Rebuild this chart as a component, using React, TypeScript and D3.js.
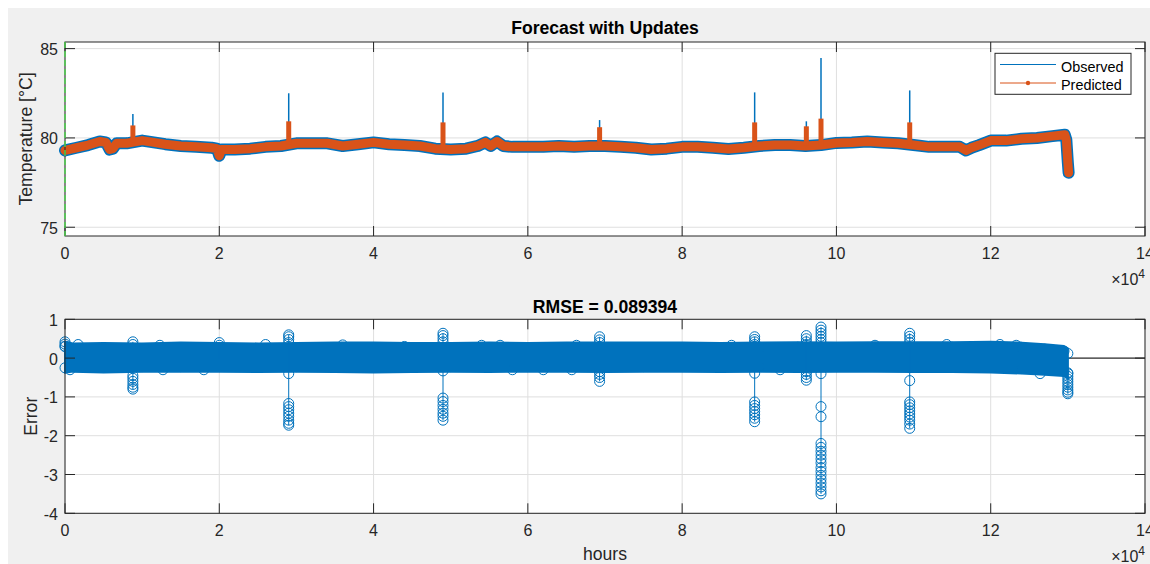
import React from 'react';
import * as d3 from 'd3';

const W = 1150;
const H = 564;

// ---------- Top panel: temperature (hours, °C) ----------
const tempHours = [0, 1500, 3000, 4500, 5300, 5800, 6200, 6700, 8000, 10000, 11500, 13000, 15000, 17000, 19000, 19700, 20000, 20300, 22000, 24000, 26000, 28000, 30000, 32000, 34000, 36000, 38000, 40000, 42000, 44000, 46000, 48000, 50000, 52000, 53500, 54500, 55200, 56000, 56800, 58000, 60000, 62000, 64000, 66000, 68000, 70000, 72000, 74000, 76000, 78000, 80000, 82000, 84000, 86000, 88000, 90000, 92000, 94000, 96000, 98000, 100000, 102000, 104000, 106000, 108000, 110000, 112000, 114000, 116000, 116800, 117500, 118500, 120000, 122000, 124000, 126000, 128000, 129600, 129800, 130000, 130100];
const tempPredicted = [79.3, 79.45, 79.6, 79.8, 79.75, 79.35, 79.4, 79.7, 79.7, 79.85, 79.75, 79.65, 79.55, 79.5, 79.45, 79.4, 79.0, 79.35, 79.35, 79.4, 79.5, 79.55, 79.7, 79.7, 79.7, 79.55, 79.65, 79.75, 79.65, 79.6, 79.55, 79.4, 79.35, 79.4, 79.55, 79.75, 79.55, 79.8, 79.55, 79.5, 79.5, 79.5, 79.55, 79.5, 79.55, 79.55, 79.5, 79.45, 79.35, 79.4, 79.5, 79.5, 79.45, 79.38, 79.45, 79.55, 79.6, 79.6, 79.55, 79.6, 79.72, 79.75, 79.8, 79.75, 79.7, 79.6, 79.5, 79.5, 79.5, 79.3, 79.45, 79.6, 79.85, 79.85, 79.95, 80.0, 80.1, 80.18, 79.9, 78.6, 78.05];

const spikeHours = [8800, 29000, 49000, 69300, 89400, 96100, 98000, 109500];
const spikeObserved = [81.34, 82.5, 82.55, 81.0, 82.55, 80.93, 84.47, 82.66];
const spikePredicted = [80.7, 80.93, 80.87, 80.6, 80.87, 80.65, 81.08, 80.87];

const xTicks = [0, 20000, 40000, 60000, 80000, 100000, 120000, 140000];
const xTickLabels = ['0', '2', '4', '6', '8', '10', '12', '14'];
const tempTicks = [75, 80, 85];
const errTicks = [1, 0, -1, -2, -3, -4];

// ---------- Bottom panel: error ----------
const errHours = [0, 1000, 5000, 10000, 15000, 20000, 25000, 30000, 35000, 40000, 45000, 50000, 55000, 60000, 65000, 70000, 75000, 80000, 85000, 90000, 95000, 100000, 105000, 110000, 115000, 120000, 124000, 127000, 129500, 130000];
const errUpper = [0.3, 0.25, 0.26, 0.25, 0.27, 0.26, 0.25, 0.26, 0.27, 0.27, 0.26, 0.26, 0.27, 0.26, 0.27, 0.27, 0.27, 0.27, 0.26, 0.27, 0.28, 0.27, 0.28, 0.28, 0.28, 0.29, 0.27, 0.23, 0.18, 0.12];
const errLower = [-0.25, -0.22, -0.24, -0.22, -0.22, -0.22, -0.23, -0.22, -0.23, -0.24, -0.23, -0.22, -0.23, -0.22, -0.22, -0.23, -0.22, -0.22, -0.23, -0.22, -0.23, -0.22, -0.22, -0.23, -0.23, -0.24, -0.27, -0.3, -0.33, -0.38];

const clusterHours = [0, 8800, 20000, 29000, 49000, 69300, 89400, 96100, 98000, 109500, 130000];
const clusterErrors = [
  [0.42, 0.36, 0.3],
  [0.42, 0.35, -0.45, -0.52, -0.6, -0.68, -0.75, -0.8],
  [0.4, 0.33],
  [0.6, 0.55, 0.48, 0.4, -0.4, -1.17, -1.25, -1.33, -1.42, -1.5, -1.6, -1.68, -1.73],
  [0.64, 0.58, 0.5, 0.42, -0.33, -1.03, -1.12, -1.22, -1.32, -1.42, -1.5, -1.6],
  [0.55, 0.47, 0.4, -0.35, -0.42, -0.5, -0.6],
  [0.55, 0.48, 0.42, 0.35, -0.39, -1.13, -1.22, -1.3, -1.38, -1.46, -1.55, -1.64],
  [0.58, 0.5, 0.42, 0.35, -0.35, -0.42, -0.5, -0.57],
  [0.8, 0.72, 0.64, 0.56, 0.48, 0.4, -0.4, -1.25, -1.51, -2.2, -2.3, -2.4, -2.5, -2.6, -2.7, -2.82, -2.92, -3.02, -3.12, -3.22, -3.32, -3.42, -3.5],
  [0.64, 0.56, 0.48, 0.4, -0.58, -1.13, -1.2, -1.28, -1.36, -1.44, -1.52, -1.6, -1.7, -1.81],
  [-0.4, -0.47, -0.54, -0.61, -0.68, -0.75, -0.82, -0.88, -0.92],
];

const edgeHours = [1700, 650, 12300, 12700, 18000, 26000, 36000, 44000, 54000, 56400, 58000, 62000, 65700, 66300, 86400, 92700, 105000, 114300, 121200, 123300, 126400];
const edgeErrors = [0.35, -0.3, 0.33, -0.3, -0.3, 0.35, 0.34, 0.3, 0.33, 0.33, -0.3, -0.3, -0.3, 0.33, 0.33, -0.3, 0.33, 0.35, 0.35, 0.33, -0.4];

// ---------- Layout ----------
const AX_L = 65;
const AX_R = 1145;
const TOP_T = 42;
const TOP_B = 236;
const BOT_T = 319.3;
const BOT_B = 513.3;

const BLUE = '#0072BD';
const ORANGE = '#D95319';
const AXC = '#262626';
const GRID = '#dfdfdf';
const FONT = "'Liberation Sans', Arial, Helvetica, sans-serif";
const TICK_LEN = 10;

const x = d3.scaleLinear().domain([0, 140000]).range([AX_L, AX_R]);
const yTop = d3.scaleLinear().domain([74.51, 85.37]).range([TOP_B, TOP_T]);
const yBot = d3.scaleLinear().domain([-4, 1]).range([BOT_B, BOT_T]);

function Frame({ top, bottom, y, yTicks }: { top: number; bottom: number; y: d3.ScaleLinear<number, number>; yTicks: number[] }) {
  return (
    <g>
      {xTicks.map((t, i) => (
        <g key={'xt' + i}>
          <line x1={x(t)} x2={x(t)} y1={bottom} y2={bottom - TICK_LEN} stroke={AXC} strokeWidth={1} />
          <line x1={x(t)} x2={x(t)} y1={top} y2={top + TICK_LEN} stroke={AXC} strokeWidth={1} />
          <text x={x(t)} y={bottom + 22.5} textAnchor="middle" fontSize={16} fill={AXC} fontFamily={FONT}>{xTickLabels[i]}</text>
        </g>
      ))}
      {yTicks.map((t, i) => (
        <g key={'yt' + i}>
          <line x1={AX_L} x2={AX_L + TICK_LEN} y1={y(t)} y2={y(t)} stroke={AXC} strokeWidth={1} />
          <line x1={AX_R} x2={AX_R - TICK_LEN} y1={y(t)} y2={y(t)} stroke={AXC} strokeWidth={1} />
          <text x={58} y={y(t) + 6.5} textAnchor="end" fontSize={16} fill={AXC} fontFamily={FONT}>{String(t)}</text>
        </g>
      ))}
      <rect x={AX_L} y={top} width={AX_R - AX_L} height={bottom - top} fill="none" stroke={AXC} strokeWidth={1} />
      <text x={AX_R} y={bottom + 49} textAnchor="end" fontSize={16} fill={AXC} fontFamily={FONT}>
        ×10<tspan dy={-7} fontSize={12}>4</tspan>
      </text>
    </g>
  );
}

function Grid({ top, bottom, y, yTicks }: { top: number; bottom: number; y: d3.ScaleLinear<number, number>; yTicks: number[] }) {
  return (
    <g>
      <rect x={AX_L} y={top} width={AX_R - AX_L} height={bottom - top} fill="#ffffff" />
      {xTicks.map((t, i) => (
        <line key={'gx' + i} x1={x(t)} x2={x(t)} y1={top} y2={bottom} stroke={GRID} strokeWidth={1} />
      ))}
      {yTicks.map((t, i) => (
        <line key={'gy' + i} x1={AX_L} x2={AX_R} y1={y(t)} y2={y(t)} stroke={GRID} strokeWidth={1} />
      ))}
    </g>
  );
}

export default function App() {
  const pts = tempHours.map((h, i) => [h, tempPredicted[i]] as [number, number]);
  const line = d3.line<[number, number]>().x((d) => x(d[0])).y((d) => yTop(d[1]));
  const base = d3.scaleLinear().domain(tempHours).range(tempPredicted);

  const errPts = errHours.map((h, i) => ({ h, u: errUpper[i], l: errLower[i] }));
  const R = 5;
  const band = d3
    .area<{ h: number; u: number; l: number }>()
    .x((d) => x(d.h))
    .y0((d) => yBot(d.l) + R)
    .y1((d) => yBot(d.u) - R);

  return (
    <svg width={W} height={H} style={{ position: 'absolute', left: 0, top: 0 }}>
      <rect x={0} y={0} width={W} height={H} fill="#ffffff" />
      <rect x={8} y={8} width={W - 8} height={H - 8} fill="#f0f0f0" />

      {/* ---------------- Top panel ---------------- */}
      <Grid top={TOP_T} bottom={TOP_B} y={yTop} yTicks={tempTicks} />
      <g>
        {spikeHours.map((h, i) => (
          <line key={'so' + i} x1={x(h)} x2={x(h)} y1={yTop(base(h))} y2={yTop(spikeObserved[i])} stroke={BLUE} strokeWidth={1.5} />
        ))}
        <path d={line(pts) || ''} fill="none" stroke={BLUE} strokeWidth={12} strokeLinejoin="round" strokeLinecap="round" />
        <path d={line(pts) || ''} fill="none" stroke={ORANGE} strokeWidth={9} strokeLinejoin="round" strokeLinecap="round" />
        {spikeHours.map((h, i) => (
          <line key={'sp' + i} x1={x(h)} x2={x(h)} y1={yTop(base(h))} y2={yTop(spikePredicted[i])} stroke={ORANGE} strokeWidth={5} />
        ))}
      </g>
      <Frame top={TOP_T} bottom={TOP_B} y={yTop} yTicks={tempTicks} />
      <line x1={x(0)} x2={x(0)} y1={TOP_T} y2={TOP_B} stroke="#4fd24f" strokeWidth={1.5} strokeDasharray="6,3" />

      {/* legend */}
      <g fontFamily={FONT}>
        <rect x={995} y={53.3} width={136} height={41} fill="#ffffff" stroke={AXC} strokeWidth={1} />
        <line x1={1000} x2={1056} y1={64.5} y2={64.5} stroke={BLUE} strokeWidth={1} />
        <text x={1061} y={71.5} fontSize={14.4} fill="#000">Observed</text>
        <line x1={1000} x2={1056} y1={83} y2={83} stroke={ORANGE} strokeWidth={1} />
        <circle cx={1028} cy={83} r={2.2} fill={ORANGE} />
        <text x={1061} y={90} fontSize={14.4} fill="#000">Predicted</text>
      </g>

      <text x={605} y={34} textAnchor="middle" fontSize={17.6} fontWeight="bold" fill="#000" fontFamily={FONT}>Forecast with Updates</text>
      <text transform={`translate(31.5,${(TOP_T + TOP_B) / 2}) rotate(-90)`} textAnchor="middle" fontSize={17.6} fill={AXC} fontFamily={FONT}>Temperature [°C]</text>

      {/* ---------------- Bottom panel ---------------- */}
      <Grid top={BOT_T} bottom={BOT_B} y={yBot} yTicks={errTicks} />
      <g>
        <line x1={AX_L} x2={AX_R} y1={yBot(0)} y2={yBot(0)} stroke="#000" strokeWidth={1} />
        <path d={band(errPts) || ''} fill={BLUE} stroke={BLUE} strokeWidth={2} strokeLinejoin="round" />
        {errPts.map((d, i) => (
          <g key={'be' + i}>
            <circle cx={x(d.h)} cy={yBot(d.u)} r={R} fill="none" stroke={BLUE} strokeWidth={1} />
            <circle cx={x(d.h)} cy={yBot(d.l)} r={R} fill="none" stroke={BLUE} strokeWidth={1} />
          </g>
        ))}
        {edgeHours.map((h, i) => (
          <circle key={'eo' + i} cx={x(h)} cy={yBot(edgeErrors[i])} r={R} fill="none" stroke={BLUE} strokeWidth={1} />
        ))}
        {clusterHours.map((h, i) => {
          const vals = clusterErrors[i];
          const lo = Math.min(0, ...vals);
          const hi = Math.max(0, ...vals);
          return (
            <g key={'cl' + i}>
              <line x1={x(h)} x2={x(h)} y1={yBot(hi)} y2={yBot(lo)} stroke={BLUE} strokeWidth={1} />
              {vals.map((v, j) => (
                <circle key={j} cx={x(h)} cy={yBot(v)} r={R} fill="none" stroke={BLUE} strokeWidth={1} />
              ))}
            </g>
          );
        })}
      </g>
      <Frame top={BOT_T} bottom={BOT_B} y={yBot} yTicks={errTicks} />

      <text x={605} y={312.7} textAnchor="middle" fontSize={17.6} fontWeight="bold" fill="#000" fontFamily={FONT}>RMSE = 0.089394</text>
      <text transform={`translate(36.5,${(BOT_T + BOT_B) / 2}) rotate(-90)`} textAnchor="middle" fontSize={17.6} fill={AXC} fontFamily={FONT}>Error</text>
      <text x={605} y={560} textAnchor="middle" fontSize={17.6} fill={AXC} fontFamily={FONT}>hours</text>
    </svg>
  );
}
